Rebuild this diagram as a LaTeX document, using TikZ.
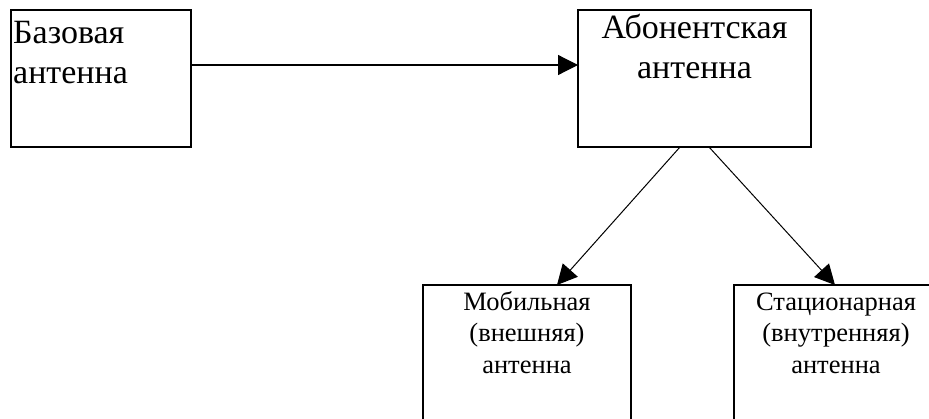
\documentclass[tikz,border=0pt]{standalone}
\usepackage{fontspec}
\setmainfont{Liberation Serif}
\usetikzlibrary{arrows.meta}
\begin{document}
\begin{tikzpicture}[x=1pt,y=-1pt,
  box/.style={draw,line width=1.6pt,minimum width=#1,inner sep=0pt,outer sep=0pt},
  bigtxt/.style={inner sep=0pt,font=\fontsize{34pt}{40pt}\selectfont,text width=#1},
  smalltxt/.style={inner sep=0pt,font=\fontsize{26.5pt}{31.5pt}\selectfont,text width=200pt,align=center},
  arr/.style={-{Triangle[length=20pt,width=20pt]},line width=1.2pt}]
\useasboundingbox (0,0) rectangle (929,418);
\fill[white] (0,0) rectangle (929,418);
% boxes
\node[box=180pt,minimum height=137pt] (B1) at (101,78.5) {};
\node[box=233pt,minimum height=137pt] (B2) at (694.5,78.5) {};
\node[box=208pt,minimum height=190pt] (B3) at (527,380) {};
\node[box=208pt,minimum height=190pt] (B4) at (838,380) {};
% texts
\node[bigtxt=170pt,align=left,anchor=base west] (T1) at (13,43) {Базовая\\антенна};
\node[bigtxt=225pt,align=center,anchor=base] (T2) at (694.5,38) {Абонентская\\антенна};
\node[smalltxt,anchor=base] (T3) at (527,310) {Мобильная\\(внешняя)\\антенна};
\node[smalltxt,anchor=base] (T4) at (836,310) {Стационарная\\(внутренняя)\\антенна};
% connectors
\draw[arr] ([yshift=13.5pt]B1.east) -- ([yshift=13.5pt]B2.west);
\draw[arr,line width=1pt] ([xshift=102pt]B2.south west) -- ([xshift=134pt]B3.north west);
\draw[arr,line width=1pt] ([xshift=131pt]B2.south west) -- ([xshift=101pt]B4.north west);
\end{tikzpicture}
\end{document}
